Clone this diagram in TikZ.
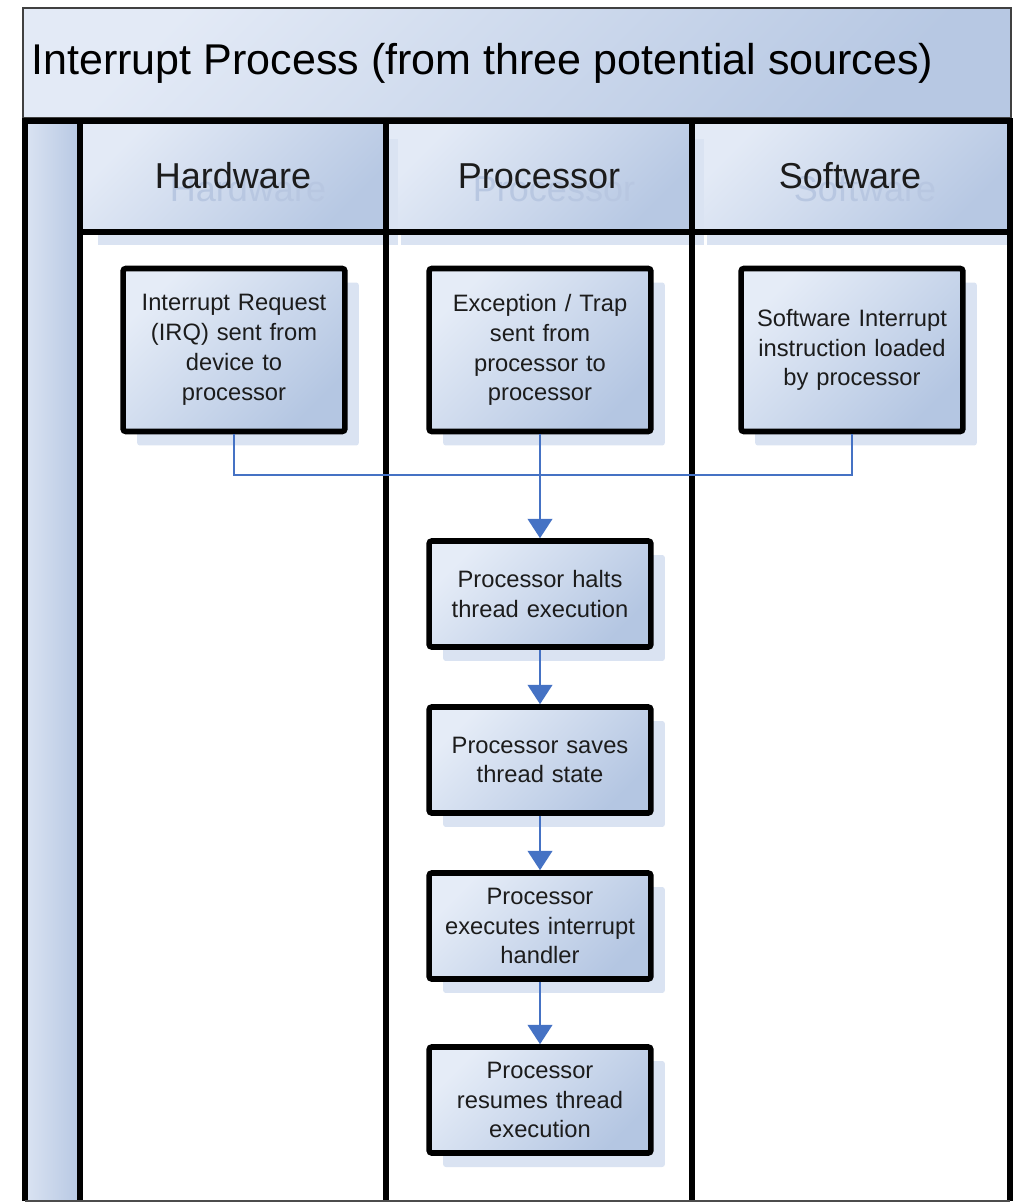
\documentclass[tikz,border=0pt]{standalone}
\usepackage{fontspec}
\setmainfont{Liberation Sans}
\usetikzlibrary{arrows.meta,shadows}

\definecolor{bandlight}{RGB}{227,234,246}
\definecolor{banddark}{RGB}{183,200,227}
\definecolor{boxlight}{RGB}{229,236,247}
\definecolor{boxdark}{RGB}{180,198,226}
\definecolor{shadowblue}{RGB}{218,227,242}
\definecolor{ghostblue}{RGB}{184,199,225}
\definecolor{flowblue}{RGB}{69,114,196}
\definecolor{inkgray}{RGB}{28,28,28}

\begin{document}
\begin{tikzpicture}[x=0.02cm,y=-0.02cm,
    laneline/.style={line width=3.2pt,black},
    bandfill/.style={top color=bandlight,bottom color=banddark,shading angle=45},
    lanetitle/.style={font=\fontsize{20.5}{24}\selectfont,text=inkgray,inner sep=0pt},
    laneghost/.style={font=\fontsize{20.5}{24}\selectfont,text=ghostblue,inner sep=0pt},
    procbox/.style={draw=black,line width=3.2pt,rounded corners=1.5pt,
      top color=boxlight,bottom color=boxdark,shading angle=45,
      drop shadow={shadow xshift=0.28cm,shadow yshift=-0.28cm,fill=shadowblue,opacity=1},
      minimum width=4.36cm,text width=4.2cm,align=center,text=inkgray,
      font=\fontsize{13.5}{17}\selectfont},
    tallbox/.style={procbox,minimum height=3.26cm},
    flatbox/.style={procbox,minimum height=2.12cm},
    flow/.style={draw=flowblue,line width=1.2pt},
    flowarrow/.style={flow,-{Triangle[width=14pt,length=11pt]}}]
    \useasboundingbox (0,0) rectangle (1014,1203);
    \path[bandfill] (23,8) rectangle (1011,118);
    \draw[line width=1.2pt,black!75] (23,8) rectangle (1011,118);
    \node[font=\fontsize{24.5}{29}\selectfont,anchor=west,inner sep=0pt] (title) at (31,63)
      {Interrupt Process (from three potential sources)};
    \path[left color=bandlight!80!banddark,right color=banddark] (25,121) rectangle (80,1201);
    \fill[shadowblue] (707,139) rectangle (1008,245);
    \path[bandfill] (695,124) rectangle (1008,230);
    \fill[shadowblue] (401,139) rectangle (704,245);
    \path[bandfill] (389,124) rectangle (689,230);
    \fill[shadowblue] (98,139) rectangle (398,245);
    \path[bandfill] (83,124) rectangle (383,230);
    \node[laneghost] (hwghost) at (248,189) {Hardware};
    \node[lanetitle] (hw) at (233,176) {Hardware};
    \node[laneghost] (cpughost) at (554,189) {Processor};
    \node[lanetitle] (cpu) at (539,176) {Processor};
    \node[laneghost] (swghost) at (865,189) {Software};
    \node[lanetitle] (sw) at (850,176) {Software};
    \draw[laneline] (25,1201) -- (25,121) -- (1010,121) -- (1010,1201);
    \draw[laneline] (80,121) -- (80,1201);
    \draw[laneline] (386,121) -- (386,1201);
    \draw[laneline] (692,121) -- (692,1201);
    \draw[laneline] (80,232) -- (1010,232);
    \draw[line width=1.2pt,black!70] (25,1201) -- (1010,1201);
    \node[tallbox] (irq) at (234,350) {Interrupt Request\\(IRQ) sent from\\device to\\processor};
    \node[tallbox] (trap) at (540,350) {Exception / Trap\\sent from\\processor to\\processor};
    \node[tallbox] (swint) at (852,350) {Software Interrupt\\instruction loaded\\by processor};
    \node[flatbox] (halt) at (540,594) {Processor halts\\thread execution};
    \node[flatbox] (save) at (540,760) {Processor saves\\thread state};
    \node[flatbox] (handler) at (540,926) {Processor\\executes interrupt\\handler};
    \node[flatbox] (resume) at (540,1100) {Processor\\resumes thread\\execution};
    \coordinate (merge) at (540,475);
    \draw[flow] (irq.south) |- (merge);
    \draw[flow] (swint.south) |- (merge);
    \draw[flowarrow] (trap) -- (halt);
    \draw[flowarrow] (halt) -- (save);
    \draw[flowarrow] (save) -- (handler);
    \draw[flowarrow] (handler) -- (resume);
\end{tikzpicture}
\end{document}
